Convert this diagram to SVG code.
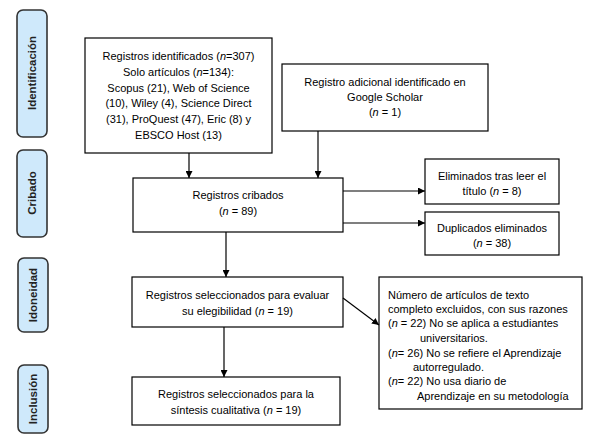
<svg xmlns="http://www.w3.org/2000/svg" width="608" height="446" viewBox="0 0 608 446">
<defs>
<marker id="ah" viewBox="0 0 10 10" refX="10" refY="5" markerWidth="7" markerHeight="7" markerUnits="userSpaceOnUse" orient="auto"><path d="M0,0 L10,5 L0,10 z" fill="#000"/></marker>
<style>
.box{fill:#fff;stroke:#000;stroke-width:1.2}
.side{fill:#cfe9fb;stroke:#333;stroke-width:1.6}
.t{font-family:"Liberation Sans",Arial,sans-serif;font-size:11px;fill:#000}
.c{text-anchor:middle}
.s{font-family:"Liberation Sans",Arial,sans-serif;font-size:11.5px;font-weight:bold;fill:#222;text-anchor:middle}
.i{font-style:italic}
.ln{stroke:#000;stroke-width:1.2;fill:none;marker-end:url(#ah)}
</style>
</defs>
<rect width="608" height="446" fill="#fff"/>
<g id="side-identificacion"><rect class="side" x="17" y="10" width="30" height="127" rx="6"/><text class="s" transform="translate(36,73) rotate(-90)">Identificación</text></g>
<g id="side-cribado"><rect class="side" x="17" y="150" width="30" height="87" rx="6"/><text class="s" transform="translate(36,193) rotate(-90)">Cribado</text></g>
<g id="side-idoneidad"><rect class="side" x="18" y="258" width="30" height="74" rx="6"/><text class="s" transform="translate(37,295) rotate(-90)">Idoneidad</text></g>
<g id="side-inclusion"><rect class="side" x="18" y="365" width="30" height="68" rx="6"/><text class="s" transform="translate(37,399) rotate(-90)">Inclusión</text></g>

<g id="identificados"><rect class="box" x="85" y="38" width="187" height="115"/>
<text class="t c" x="178.5" y="60">Registros identificados (<tspan class="i">n</tspan>=307)</text>
<text class="t c" x="178.5" y="76">Solo artículos (<tspan class="i">n</tspan>=134):</text>
<text class="t c" x="178.5" y="92">Scopus (21), Web of Science</text>
<text class="t c" x="178.5" y="107">(10), Wiley (4), Science Direct</text>
<text class="t c" x="178.5" y="123">(31), ProQuest (47), Eric (8) y</text>
<text class="t c" x="178.5" y="139">EBSCO Host (13)</text></g>

<g id="google"><rect class="box" x="282" y="64" width="206" height="67"/>
<text class="t c" x="385" y="86">Registro adicional identificado en</text>
<text class="t c" x="385" y="101">Google Scholar</text>
<text class="t c" x="385" y="116">(<tspan class="i">n</tspan> = 1)</text></g>

<g id="cribados"><rect class="box" x="133" y="178" width="210" height="54"/>
<text class="t c" x="238" y="199">Registros cribados</text>
<text class="t c" x="238" y="215">(<tspan class="i">n</tspan> = 89)</text></g>

<g id="eliminados"><rect class="box" x="425" y="159" width="134" height="45"/>
<text class="t c" x="492" y="180">Eliminados tras leer el</text>
<text class="t c" x="492" y="195">título  (<tspan class="i">n</tspan> = 8)</text></g>

<g id="duplicados"><rect class="box" x="425" y="212" width="134" height="43"/>
<text class="t c" x="492" y="232">Duplicados eliminados</text>
<text class="t c" x="492" y="247">(<tspan class="i">n</tspan> = 38)</text></g>

<g id="evaluar"><rect class="box" x="132" y="277" width="211" height="50"/>
<text class="t c" x="237.5" y="299">Registros seleccionados para evaluar</text>
<text class="t c" x="237.5" y="315">su elegibilidad  (<tspan class="i">n</tspan> = 19)</text></g>

<g id="sintesis"><rect class="box" x="132" y="377" width="208" height="48"/>
<text class="t c" x="236" y="398">Registros seleccionados para la</text>
<text class="t c" x="236" y="414">síntesis cualitativa  (<tspan class="i">n</tspan> = 19)</text></g>

<g id="excluidos"><rect class="box" x="379" y="277" width="203" height="132"/>
<text class="t" x="388" y="299">Número de artículos de texto</text>
<text class="t" x="388" y="313">completo excluidos, con sus razones</text>
<text class="t" x="388" y="327">(<tspan class="i">n</tspan> = 22) No se aplica a estudiantes</text>
<text class="t" x="420" y="342">universitarios.</text>
<text class="t" x="388" y="357">(<tspan class="i">n</tspan>= 26) No se refiere el Aprendizaje</text>
<text class="t" x="413" y="371">autorregulado.</text>
<text class="t" x="388" y="385">(<tspan class="i">n</tspan>= 22) No usa diario de</text>
<text class="t" x="417" y="400">Aprendizaje en su metodología</text></g>

<g id="connectors">
<line class="ln" x1="189" y1="153" x2="189" y2="178"/>
<line class="ln" x1="318" y1="131" x2="318" y2="178"/>
<line class="ln" x1="343" y1="191" x2="425" y2="191"/>
<line class="ln" x1="343" y1="223" x2="425" y2="223"/>
<line class="ln" x1="226" y1="232" x2="226" y2="277"/>
<line class="ln" x1="224" y1="327" x2="224" y2="377"/>
<line class="ln" x1="343" y1="298" x2="379" y2="325"/>
</g>
</svg>
